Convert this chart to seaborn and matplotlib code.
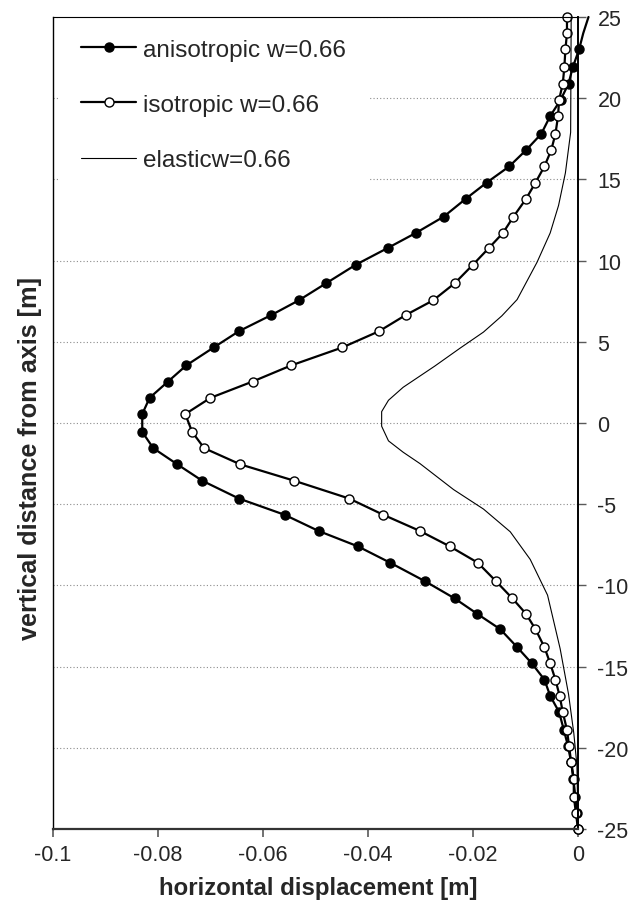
import numpy as np
import seaborn as sns
import matplotlib.pyplot as plt

# mesh nodes along the vertical axis [m]
depth = [25, 24, 23, 21.9, 20.9, 19.9, 18.9, 17.8, 16.8, 15.8, 14.8, 13.8, 12.7,
         11.7, 10.8, 9.75, 8.6, 7.55, 6.65, 5.65, 4.65, 3.55, 2.55, 1.55, 0.55,
         -0.55, -1.55, -2.55, -3.55, -4.65, -5.65, -6.65, -7.6, -8.6, -9.75, -10.8,
         -11.75, -12.7, -13.8, -14.8, -15.8, -16.8, -17.8, -18.9, -19.9, -20.9,
         -21.9, -23, -24, -25]

aniso_x = [0.002, 0.001, 0.0002, -0.001, -0.0018, -0.0033, -0.0053, -0.0070, -0.0099,
           -0.0131, -0.0174, -0.0214, -0.0256, -0.0309, -0.0361, -0.0423, -0.0480,
           -0.0532, -0.0584, -0.0646, -0.0694, -0.0746, -0.0781, -0.0816, -0.0830,
           -0.0830, -0.0809, -0.0763, -0.0716, -0.0646, -0.0559, -0.0494, -0.0419,
           -0.0358, -0.0291, -0.0235, -0.0192, -0.0148, -0.0116, -0.0088, -0.0064,
           -0.0053, -0.0036, -0.0027, -0.0019, -0.0013, -0.0009, -0.0005, -0.0002, 0.0]

iso_x = [-0.0021, -0.0021, -0.0024, -0.0026, -0.0029, -0.0036, -0.0038, -0.0043, -0.0051,
         -0.0064, -0.0081, -0.0099, -0.0123, -0.0143, -0.0169, -0.0200, -0.0235,
         -0.0276, -0.0328, -0.0379, -0.0449, -0.0546, -0.0620, -0.0700, -0.0748,
         -0.0735, -0.0712, -0.0643, -0.0541, -0.0436, -0.0371, -0.0301, -0.0244,
         -0.0191, -0.0156, -0.0125, -0.0099, -0.0081, -0.0064, -0.0053, -0.0043,
         -0.0035, -0.0029, -0.0021, -0.0017, -0.0013, -0.0008, -0.0008, -0.0004, 0.0]

elastic_y = [25, 17.9, 15.4, 13.4, 11.7, 9.9, 7.6, 6.6, 5.6, 4.6, 3.5, 2.2, 1.4, 0.7,
             -0.2, -1.1, -1.8, -2.5, -4.1, -5.3, -6.7, -8.4, -10.6, -13.9, -16.7,
             -19.1, -21.1, -25]
elastic_x = [-0.0013, -0.0014, -0.0024, -0.0037, -0.0053, -0.0078, -0.0116, -0.0145,
             -0.0180, -0.0225, -0.0273, -0.0333, -0.0361, -0.0374, -0.0374, -0.0361,
             -0.0333, -0.0301, -0.0237, -0.0180, -0.0129, -0.0091, -0.0058, -0.0034,
             -0.0018, -0.0008, -0.0002, 0.0]

labels = ["anisotropic w=0.66", "isotropic w=0.66", "elasticw=0.66"]
xticks = [-0.1, -0.08, -0.06, -0.04, -0.02, 0]
xtick_labels = ["-0.1", "-0.08", "-0.06", "-0.04", "-0.02", "0"]
yticks = [-25, -20, -15, -10, -5, 0, 5, 10, 15, 20, 25]

sns.set_style("white")
plt.rcParams["font.family"] = ["Liberation Sans", "DejaVu Sans"]
plt.rcParams["axes.unicode_minus"] = False

fig = plt.figure(figsize=(6.43, 9.04), dpi=100)
ax = fig.add_axes([53 / 643, 1 - 830 / 904, 525 / 643, 812 / 904])

sns.lineplot(x=aniso_x, y=depth, sort=False, estimator=None, color="black", lw=1.6,
             marker="o", ms=6.5, mfc="black", mec="black", mew=1, label=labels[0], ax=ax)
sns.lineplot(x=iso_x, y=depth, sort=False, estimator=None, color="black", lw=1.6,
             marker="o", ms=6.5, mfc="white", mec="black", mew=1, label=labels[1], ax=ax)
sns.lineplot(x=elastic_x, y=elastic_y, sort=False, estimator=None, color="black",
             lw=0.8, label=labels[2], ax=ax)

ax.set_xlim(-0.1, 0)
ax.set_ylim(-25, 25)
ax.set_xticks(xticks)
ax.set_xticklabels(xtick_labels)
ax.set_yticks(yticks)
ax.yaxis.tick_right()
ax.tick_params(axis="x", direction="out", length=6, width=1.2, color="0.35",
               pad=5, labelsize=15.5, bottom=True)
ax.tick_params(axis="y", direction="out", length=6, width=1.0, color="0.35",
               pad=8, labelsize=15.5, right=True, left=False)

ax.yaxis.grid(True, linestyle=(0, (1, 2)), color="0.55", lw=0.8)
ax.xaxis.grid(False)

for side in ["left", "right", "top", "bottom"]:
    ax.spines[side].set_visible(True)
    ax.spines[side].set_color("black")
ax.spines["left"].set_linewidth(1.0)
ax.spines["top"].set_linewidth(0.8)
ax.spines["right"].set_linewidth(1.4)
ax.spines["bottom"].set_linewidth(1.6)
ax.spines["bottom"].set_color("0.2")

ax.set_xlabel("horizontal displacement [m]", fontsize=17.3, fontweight="bold")
ax.set_ylabel("vertical distance from axis [m]", fontsize=18.2, fontweight="bold")
ax.xaxis.set_label_coords(0.505, -0.058)
ax.yaxis.set_label_coords(-0.02, 0.457)

leg = ax.legend(loc="upper left", bbox_to_anchor=(0.0095, 1.0015), frameon=True,
                fancybox=False, edgecolor="none", facecolor="white", framealpha=1,
                fontsize=17.5, handlelength=2.26, handletextpad=0.3,
                labelspacing=1.36, borderpad=0.95, borderaxespad=0)
leg.set_zorder(2.2)

# markers at the top of the anisotropic curve fall outside the frame
lines = ax.get_lines()
lines[0].set_markevery(list(range(2, len(depth))))
for ln in lines[:3]:
    ln.set_clip_on(False)

fig.savefig("out.png", dpi=100)
